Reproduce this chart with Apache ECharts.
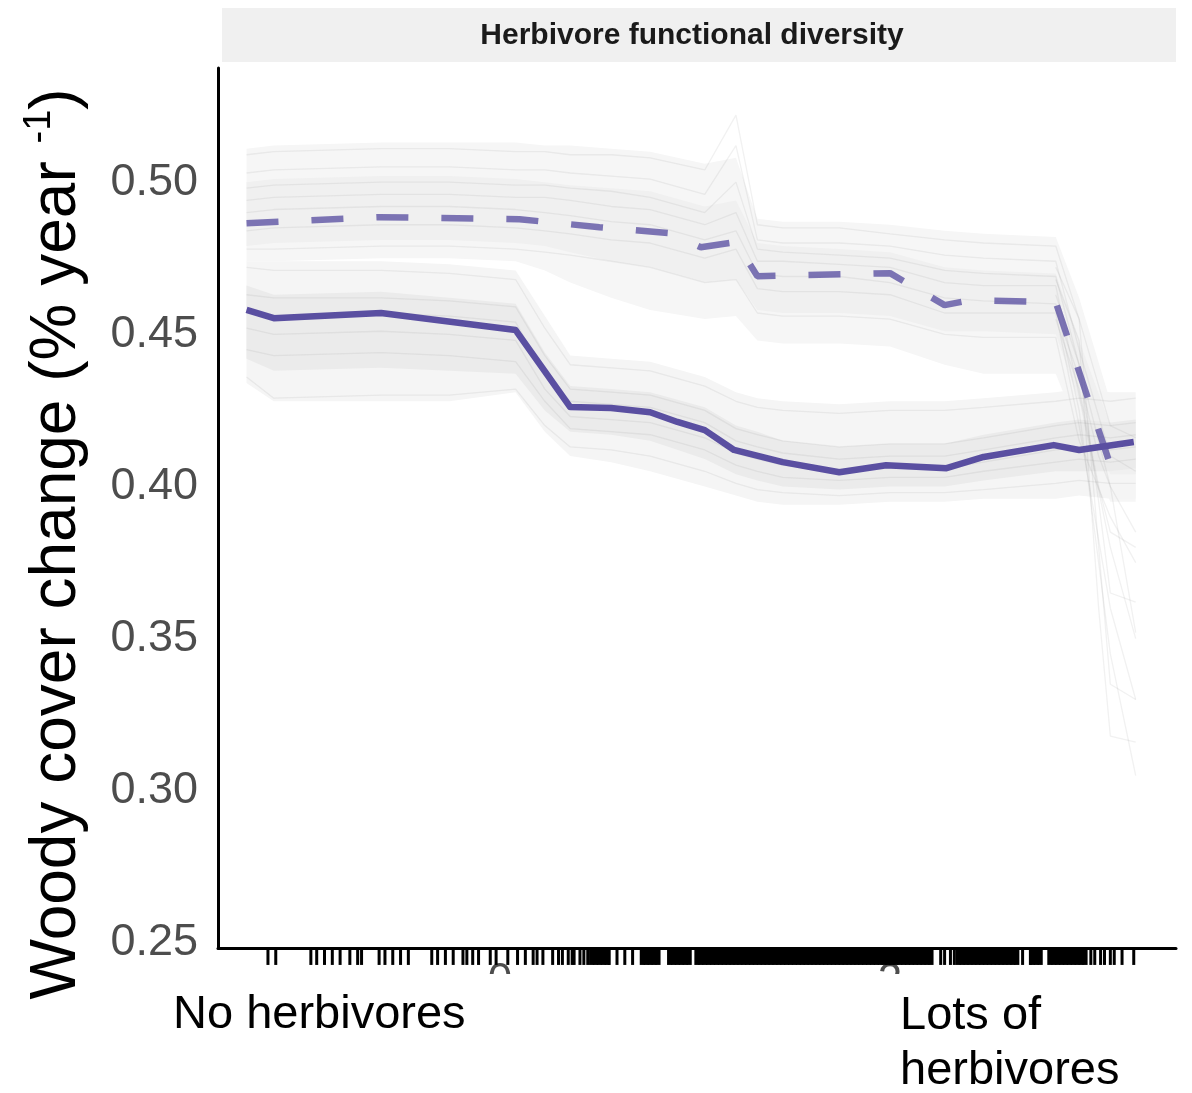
<!DOCTYPE html>
<html><head><meta charset="utf-8">
<script src="https://cdn.jsdelivr.net/npm/echarts@6/dist/echarts.min.js"></script>
<style>html,body{margin:0;padding:0;background:#fff}#c{width:1192px;height:1093px}</style>
</head><body><div id="c"></div>
<script>
const FONT = '"Liberation Sans", Arial, Helvetica, sans-serif';
const stripTitle = 'Herbivore functional diversity';
const yTitleMain = 'Woody cover change (% year ';
const yTitleSup = '-1';
const leftLabel = 'No herbivores';
const rightLabel1 = 'Lots of';
const rightLabel2 = 'herbivores';
const yTicks = [0.25, 0.30, 0.35, 0.40, 0.45, 0.50];
const xTicks = [0, 2];

// mean partial-dependence curves
const solidX = [-1.30, -1.16, -0.61, 0.08, 0.36, 0.57, 0.77, 0.91, 1.05, 1.20, 1.45, 1.74, 1.98, 2.29, 2.48, 2.84, 2.97, 3.25];
const solidY = [0.4580, 0.4553, 0.4570, 0.4514, 0.4261, 0.4258, 0.4244, 0.4212, 0.4185, 0.4120, 0.4080, 0.4047, 0.4070, 0.4060, 0.4097, 0.4136, 0.4120, 0.4146];
const dashX = [-1.30, -0.62, 0.10, 0.51, 0.87, 1.03, 1.21, 1.32, 2.00, 2.28, 2.41, 2.85, 3.13];
const dashY = [0.4865, 0.4885, 0.4878, 0.4852, 0.4832, 0.4786, 0.4803, 0.4691, 0.4701, 0.4596, 0.4612, 0.4606, 0.4070];

// grid of the individual (ICE) curves
const iceX = [-1.30, -1.16, -0.61, -0.26, 0.08, 0.23, 0.36, 0.57, 0.77, 1.05, 1.21, 1.32, 1.45, 1.74, 2.00, 2.28, 2.48, 2.85, 2.97, 3.13, 3.26];
// envelopes of the grey curve bundles
const lowOuterHi = [0.474,0.474,0.474,0.473,0.471,0.456,0.443,0.442,0.441,0.436,0.431,0.429,0.428,0.427,0.428,0.428,0.429,0.431,0.432,0.431,0.431];
const lowOuterLo = [0.434,0.428,0.428,0.428,0.431,0.418,0.410,0.408,0.405,0.400,0.397,0.395,0.394,0.394,0.395,0.395,0.396,0.396,0.397,0.396,0.396];
const lowInnerHi = [0.466,0.463,0.464,0.462,0.460,0.444,0.433,0.432,0.431,0.426,0.420,0.418,0.415,0.413,0.414,0.414,0.417,0.421,0.422,0.421,0.422];
const lowInnerLo = [0.442,0.438,0.439,0.438,0.437,0.425,0.418,0.417,0.415,0.409,0.404,0.402,0.400,0.399,0.400,0.400,0.402,0.405,0.405,0.405,0.406];
const upOuterHi = [0.511,0.512,0.513,0.513,0.513,0.512,0.512,0.511,0.510,0.506,0.508,0.488,0.487,0.487,0.486,0.484,0.483,0.482,0.462,0.428,0.425];
const upOuterLo = [0.474,0.474,0.475,0.475,0.474,0.471,0.467,0.462,0.458,0.455,0.456,0.448,0.447,0.447,0.446,0.440,0.437,0.437,0.418,0.395,0.395];
const upInnerHi = [0.500,0.501,0.502,0.502,0.501,0.500,0.499,0.498,0.497,0.492,0.494,0.480,0.479,0.478,0.477,0.472,0.471,0.470,0.448,0.420,0.418];
const upInnerLo = [0.479,0.480,0.481,0.481,0.480,0.479,0.477,0.474,0.472,0.467,0.468,0.458,0.457,0.457,0.456,0.451,0.451,0.450,0.428,0.404,0.404];

// a few individual curves (lower bundle)
const ice1 = [0.472,0.471,0.471,0.470,0.468,0.452,0.440,0.439,0.438,0.433,0.428,0.426,0.425,0.424,0.425,0.425,0.426,0.428,0.429,0.428,0.429];
const ice2 = [0.463,0.462,0.462,0.461,0.459,0.443,0.432,0.431,0.430,0.425,0.419,0.417,0.415,0.413,0.414,0.414,0.416,0.420,0.421,0.420,0.421];
const ice3 = [0.452,0.450,0.451,0.450,0.448,0.432,0.423,0.422,0.421,0.416,0.411,0.409,0.407,0.405,0.406,0.406,0.408,0.412,0.413,0.412,0.413];
const ice4 = [0.445,0.443,0.444,0.443,0.441,0.428,0.419,0.418,0.417,0.412,0.407,0.405,0.403,0.402,0.403,0.403,0.405,0.408,0.409,0.408,0.409];
const ice5 = [0.436,0.429,0.430,0.430,0.432,0.420,0.413,0.412,0.410,0.405,0.401,0.399,0.398,0.397,0.398,0.398,0.399,0.401,0.402,0.401,0.401];
const ice6 = [0.458,0.456,0.457,0.456,0.454,0.437,0.428,0.427,0.426,0.421,0.415,0.413,0.411,0.409,0.410,0.410,0.412,0.416,0.417,0.416,0.417];
// a few individual curves (upper bundle)
const ice7 = [0.509,0.510,0.511,0.511,0.510,0.510,0.509,0.509,0.508,0.504,0.522,0.486,0.485,0.485,0.483,0.481,0.480,0.479,0.455,0.420,0.416];
const ice8 = [0.503,0.504,0.505,0.505,0.504,0.504,0.503,0.502,0.501,0.496,0.512,0.481,0.480,0.480,0.479,0.476,0.475,0.474,0.445,0.410,0.405];
const ice9 = [0.494,0.495,0.496,0.496,0.495,0.495,0.494,0.492,0.491,0.486,0.490,0.474,0.474,0.473,0.472,0.467,0.466,0.466,0.430,0.380,0.350];
const ice10 = [0.484,0.485,0.486,0.486,0.485,0.484,0.483,0.481,0.480,0.475,0.478,0.465,0.464,0.464,0.463,0.457,0.457,0.457,0.420,0.360,0.330];
const ice11 = [0.478,0.478,0.479,0.479,0.478,0.477,0.476,0.474,0.472,0.467,0.468,0.457,0.456,0.456,0.455,0.450,0.449,0.449,0.415,0.390,0.375];
const ice12 = [0.490,0.491,0.492,0.492,0.491,0.490,0.489,0.487,0.486,0.481,0.484,0.470,0.469,0.469,0.467,0.462,0.461,0.460,0.425,0.345,0.305];
const ice13 = [0.498,0.499,0.500,0.500,0.499,0.499,0.498,0.497,0.495,0.490,0.500,0.478,0.477,0.476,0.475,0.471,0.470,0.469,0.440,0.400,0.385];
// falling tails at the high end
const tailX = [2.85, 2.97, 3.07, 3.13, 3.26];
const tail1 = [0.472, 0.455, 0.380, 0.335, 0.330];
const tail2 = [0.463, 0.440, 0.395, 0.365, 0.362];
const tail3 = [0.455, 0.432, 0.400, 0.385, 0.380];
const tail4 = [0.468, 0.448, 0.360, 0.318, 0.316];
const tail5 = [0.458, 0.436, 0.410, 0.400, 0.352];

// rug of observed values
const rugSparse = [-1.19,-1.15,-0.97,-0.94,-0.90,-0.86,-0.82,-0.77,-0.73,-0.71,-0.62,-0.59,-0.55,-0.51,-0.47,-0.35,-0.32,-0.28,-0.24,-0.19,-0.17,-0.14,-0.11,-0.05,-0.02,0.04,0.09,0.13,0.17,0.19,0.22,0.27,0.30,0.32,0.35,0.37,0.38,0.41,0.43,0.45,0.56,0.60,0.64,0.68,2.26,2.28,2.31,2.33,2.68,2.72,3.03,3.05,3.08,3.10,3.13,3.15,3.19,3.25];
const rugDense = [0.47,0.49,0.51,0.53,0.55,0.73,0.75,0.77,0.79,0.81,0.87,0.89,0.91,0.93,0.95,0.97,1.01,1.03,1.05,1.07,1.09,1.11,1.13,1.15,1.17,1.19,1.21,1.23,1.25,1.27,1.29,1.31,1.33,1.35,1.37,1.39,1.41,1.43,1.45,1.47,1.49,1.51,1.53,1.55,1.57,1.59,1.61,1.63,1.65,1.67,1.69,1.71,1.73,1.75,1.77,1.79,1.81,1.83,1.85,1.87,1.89,1.91,1.93,1.95,1.97,1.99,2.01,2.03,2.05,2.07,2.09,2.11,2.13,2.15,2.17,2.19,2.21,2.35,2.37,2.39,2.41,2.43,2.45,2.47,2.49,2.51,2.53,2.55,2.57,2.59,2.61,2.63,2.65,2.73,2.75,2.77,2.82,2.84,2.86,2.88,2.90,2.92,2.94,2.96,2.98,3.00];

const Y_MIN = 0.24836, Y_MAX = 0.5375;
const X_MIN = -1.4462, X_MAX = 3.4667;
const PURPLE = '#5a4fa1';

function pairs(xs, ys) { return xs.map((x, i) => [x, ys[i]]); }

function band(xs, lo, hi, fill) {
  return {
    type: 'custom', silent: true, z: 1,
    data: xs.map((x, i) => [x, lo[i], hi[i]]),
    encode: { x: 0, y: [1, 2] },
    renderItem: function (params, api) {
      if (params.dataIndex !== 0) return null;
      const pts = [];
      for (let i = 0; i < xs.length; i++) pts.push(api.coord([xs[i], hi[i]]));
      for (let i = xs.length - 1; i >= 0; i--) pts.push(api.coord([xs[i], lo[i]]));
      return { type: 'polygon', shape: { points: pts }, style: { fill: fill } };
    }
  };
}
function grey(xs, ys) {
  return {
    type: 'line', data: pairs(xs, ys), symbol: 'none', silent: true, z: 2,
    lineStyle: { color: 'rgba(120,120,120,0.10)', width: 1.3 }
  };
}

const series = [
  band(iceX, upOuterLo, upOuterHi, '#f6f6f6'),
  band(iceX, lowOuterLo, lowOuterHi, '#f5f5f5'),
  band(iceX, upInnerLo, upInnerHi, '#f0f0f0'),
  band(iceX, lowInnerLo, lowInnerHi, '#ebebeb')
];
[ice1, ice2, ice3, ice4, ice5, ice6, ice7, ice8, ice9, ice10, ice11, ice12, ice13].forEach(a => series.push(grey(iceX, a)));
[tail1, tail2, tail3, tail4, tail5].forEach(a => series.push(grey(tailX, a)));

series.push({
  type: 'line', data: pairs(solidX, solidY), symbol: 'none', z: 5,
  lineStyle: { color: PURPLE, width: 6.5, join: 'round' }
});
series.push({
  type: 'line', data: pairs(dashX, dashY), symbol: 'none', z: 6,
  lineStyle: { color: PURPLE, width: 6.5, type: [32, 33], opacity: 0.78 }
});
const RUG_Y = Y_MIN - 0.0031;
series.push({
  type: 'scatter', data: rugSparse.map(x => [x, RUG_Y]), symbol: 'rect', symbolSize: [3, 15],
  clip: false, silent: true, itemStyle: { color: '#000', opacity: 1 }, z: 7
});
series.push({
  type: 'scatter', data: rugDense.map(x => [x, RUG_Y]), symbol: 'rect', symbolSize: [5.2, 15],
  clip: false, silent: true, itemStyle: { color: '#000', opacity: 1 }, z: 7
});

const chart = echarts.init(document.getElementById('c'), null, { renderer: 'canvas' });
chart.setOption({
  animation: false,
  backgroundColor: '#fff',
  textStyle: { fontFamily: FONT },
  grid: { left: 218, right: 16, top: 68, bottom: 145, containLabel: false },
  xAxis: {
    type: 'value', min: X_MIN, max: X_MAX,
    axisLine: { show: true, onZero: false, lineStyle: { color: '#000', width: 3 } },
    axisTick: { show: false }, splitLine: { show: false },
    axisLabel: { customValues: xTicks, formatter: v => String(Math.round(v)), fontSize: 44, color: '#4d4d4d', margin: 12, fontFamily: FONT }
  },
  yAxis: {
    type: 'value', min: Y_MIN, max: Y_MAX,
    axisLine: { show: true, onZero: false, lineStyle: { color: '#000', width: 3 } },
    axisTick: { show: false }, splitLine: { show: false },
    axisLabel: { customValues: yTicks, formatter: v => v.toFixed(2), fontSize: 45, color: '#4d4d4d', margin: 20, fontFamily: FONT }
  },
  graphic: [
    { type: 'rect', z: 100, shape: { x: 222, y: 8, width: 954, height: 54 }, style: { fill: '#f0f0f0' } },
    { type: 'text', z: 101, x: 692, y: 36, style: { text: stripTitle, font: 'bold 30px ' + FONT, fill: '#1a1a1a', align: 'center', verticalAlign: 'middle' } },
    { type: 'rect', z: 100, shape: { x: 465, y: 974, width: 70, height: 40 }, style: { fill: '#fff' } },
    { type: 'rect', z: 100, shape: { x: 855, y: 974, width: 70, height: 40 }, style: { fill: '#fff' } },
    { type: 'text', z: 101, x: 57, y: 544, rotation: Math.PI / 2,
      style: { text: '{a|' + yTitleMain + '}{s|' + yTitleSup + '}{a|)}', align: 'center', verticalAlign: 'middle',
        rich: { a: { fontSize: 64, fontFamily: FONT, fill: '#000', lineHeight: 72 },
                s: { fontSize: 38, fontFamily: FONT, fill: '#000', verticalAlign: 'top', lineHeight: 40 } } } },
    { type: 'text', z: 101, x: 173, y: 1015, style: { text: leftLabel, font: '47px ' + FONT, fill: '#000', align: 'left', verticalAlign: 'middle' } },
    { type: 'text', z: 101, x: 900, y: 1016, style: { text: rightLabel1, font: '47px ' + FONT, fill: '#000', align: 'left', verticalAlign: 'middle' } },
    { type: 'text', z: 101, x: 900, y: 1071, style: { text: rightLabel2, font: '47px ' + FONT, fill: '#000', align: 'left', verticalAlign: 'middle' } }
  ],
  series: series
});
</script>
</body></html>
